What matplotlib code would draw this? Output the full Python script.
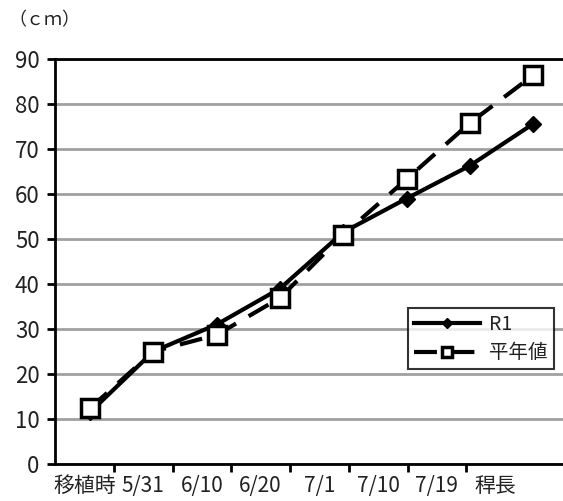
import matplotlib
matplotlib.use("Agg")
import matplotlib.pyplot as plt

plt.rcParams['font.family'] = ['Noto Sans CJK JP', 'DejaVu Sans']

categories = ["移植時", "5/31", "6/10", "6/20", "7/1", "7/10", "7/19", "稈長"]
r1 = [11.5, 25.0, 31.0, 39.0, 51.5, 59.0, 66.3, 75.6]
heinen = [12.4, 25.0, 28.7, 36.9, 51.0, 63.3, 75.8, 86.4]

fig = plt.figure(figsize=(5.63, 5.01), dpi=100)
ax = fig.add_axes([55 / 563, 37 / 501, 508 / 563, 405 / 501])

x = list(range(len(categories)))
ax.plot(x, r1, color="black", lw=3, marker="D", ms=8, label="R1", zorder=4)
ax.plot(x, heinen, color="black", lw=3, ls=(0, (5.5, 3.5)), marker="s", ms=13,
        mfc="white", mec="black", mew=2.5, label="平年値", zorder=5)

ax.set_ylim(0, 90)
ax.set_xlim(-0.553, 7.47)
ax.set_yticks(range(0, 91, 10))
ax.yaxis.grid(True, color="#a0a0a0", lw=2)
ax.set_axisbelow(True)
ax.tick_params(axis="y", direction="out", length=6, width=2, labelsize=16,
               pad=5, labelcolor="#222222")
ax.set_xticks([])
for s in ["left", "bottom", "top"]:
    ax.spines[s].set_linewidth(2)
ax.spines["right"].set_visible(False)

# category axis for labels
ax2 = ax.twiny()
ax2.xaxis.set_ticks_position("bottom")
ax2.xaxis.set_label_position("bottom")
ax2.set_xlim(-0.5, -0.5 + 508 * 8 / 470)
ax2.set_xticks([i + 0.5 for i in range(len(categories) - 1)])
ax2.set_xticklabels([])
ax2.set_xticks(x, minor=True)
ax2.set_xticklabels(categories, minor=True, fontsize=15, color="#222222")
ax2.tick_params(axis="x", which="major", direction="out", length=6, width=2)
ax2.tick_params(axis="x", which="minor", length=0, pad=8)
for s in ax2.spines.values():
    s.set_visible(False)

leg = ax.legend(loc="upper left", bbox_to_anchor=((398 - 55) / 508, (464 - 298) / 405),
                frameon=True, fancybox=False, edgecolor="black", fontsize=14,
                handlelength=3.4, borderpad=0.3, labelspacing=0.4, handletextpad=0.5,
                markerscale=0.6)
leg.get_frame().set_linewidth(1.5)
for t in leg.get_texts():
    t.set_color("#222222")

fig.text(8 / 563, 1 - 20 / 501, "（ｃｍ）", fontsize=13, va="center", ha="left",
         color="#222222")

fig.savefig("out.png", dpi=100)
